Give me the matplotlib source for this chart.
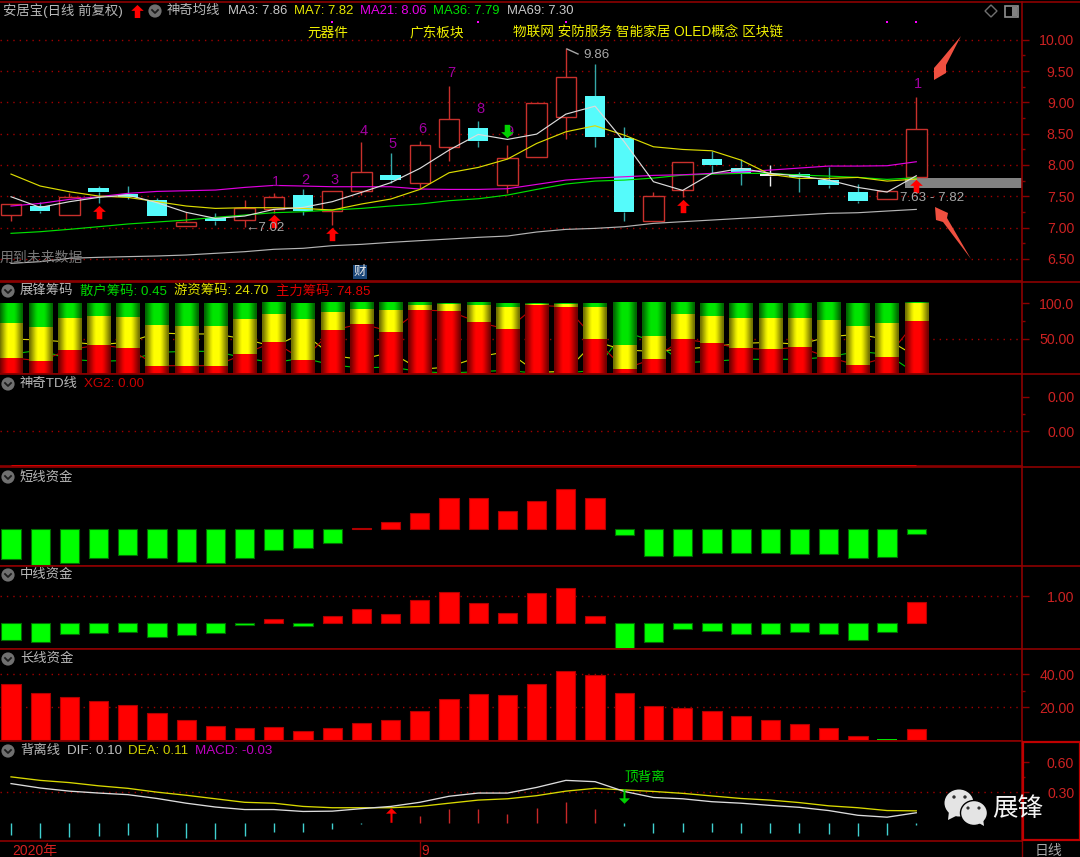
import numpy as np
import matplotlib
matplotlib.use('Agg')
import matplotlib.pyplot as plt
from matplotlib.path import Path
from matplotlib.patches import Circle, Ellipse, Polygon, Rectangle

plt.rcParams['font.family'] = ['Liberation Sans', 'Noto Sans CJK SC', 'DejaVu Sans']

# candles
opens = [7.196, 7.345, 7.196, 7.637, 7.536, 7.44, 7.031, 7.148, 7.121, 7.302, 7.525, 7.27, 7.578, 7.834, 7.717, 8.28,
         8.594, 7.68, 8.131, 8.769, 9.099, 8.429, 7.1, 7.594, 8.089, 7.945, 7.85, 7.855, 7.759, 7.563, 7.461, 7.812]
closes = [7.376, 7.26, 7.483, 7.568, 7.493, 7.185, 7.089, 7.1, 7.307, 7.483, 7.27, 7.578, 7.881, 7.765, 8.323, 8.737,
          8.387, 8.105, 8.987, 9.402, 8.44, 7.244, 7.504, 8.052, 7.993, 7.876, 7.823, 7.812, 7.679, 7.424, 7.578, 8.573]
highs = [7.376, 7.408, 7.557, 7.664, 7.664, 7.472, 7.249, 7.228, 7.44, 7.546, 7.621, 7.578, 8.36, 8.185, 8.381, 9.269,
         8.705, 8.323, 8.987, 9.86, 9.609, 8.599, 7.568, 8.052, 8.227, 8.089, 7.998, 7.887, 7.972, 7.695, 7.578, 9.083]
lows = [7.105, 7.238, 7.196, 7.387, 7.461, 7.185, 7.031, 7.047, 7.015, 7.228, 7.206, 7.036, 7.525, 7.706, 7.626, 8.057,
        8.291, 7.546, 8.131, 8.408, 8.291, 7.1, 7.1, 7.483, 7.866, 7.68, 7.664, 7.573, 7.626, 7.387, 7.461, 7.812]

ma3 = [7.493, 7.323, 7.414, 7.483, 7.52, 7.398, 7.244, 7.148, 7.185, 7.291, 7.323, 7.414, 7.563, 7.717, 7.945, 8.238,
       8.488, 8.408, 8.493, 8.812, 8.939, 8.371, 7.733, 7.594, 7.866, 7.945, 7.866, 7.823, 7.759, 7.642, 7.568, 7.828]
ma7 = [7.855, 7.664, 7.573, 7.504, 7.483, 7.414, 7.345, 7.307, 7.318, 7.318, 7.307, 7.281, 7.377, 7.456, 7.61, 7.876,
       7.961, 8.094, 8.344, 8.53, 8.626, 8.477, 8.291, 8.248, 8.227, 8.078, 7.85, 7.786, 7.786, 7.802, 7.743, 7.775]
ma21 = [7.345, 7.387, 7.451, 7.493, 7.547, 7.578, 7.589, 7.6, 7.642, 7.674, 7.664, 7.653, 7.653, 7.653, 7.616, 7.61,
        7.61, 7.621, 7.69, 7.759, 7.791, 7.812, 7.834, 7.844, 7.866, 7.887, 7.919, 7.951, 7.983, 7.983, 7.988, 8.052]
ma36 = [6.909, 6.935, 6.973, 7.015, 7.058, 7.09, 7.121, 7.164, 7.201, 7.238, 7.254, 7.281, 7.307, 7.345, 7.377, 7.43,
        7.461, 7.52, 7.61, 7.696, 7.743, 7.759, 7.791, 7.839, 7.855, 7.866, 7.866, 7.839, 7.823, 7.802, 7.77, 7.797]
ma69 = [6.43, 6.457, 6.51, 6.526, 6.537, 6.547, 6.563, 6.59, 6.616, 6.654, 6.67, 6.712, 6.733, 6.765, 6.792, 6.818,
        6.845, 6.866, 6.93, 6.972, 6.988, 7.015, 7.068, 7.095, 7.121, 7.148, 7.174, 7.201, 7.228, 7.238, 7.265, 7.291]

count_idx = [9, 10, 11, 12, 13, 14, 15, 16, 17, 31]
count_val = [7.73, 7.76, 7.76, 8.55, 8.34, 8.58, 9.47, 8.89, 8.53, 9.29]
count_txt = ['1', '2', '3', '4', '5', '6', '7', '8', '9', '1']
up_idx = [3, 9, 11, 23, 31]
up_val = [7.25, 7.10, 6.90, 7.34, 7.67]
down_idx = [17]
down_val = [8.54]
dot_idx = [11, 16, 19, 30, 31]
dot_val = [10.28, 10.28, 10.28, 10.28, 10.28]
band_low, band_high = 7.63, 7.80

# chips
chip_main = [23.0, 18.3, 34.3, 40.8, 36.2, 11.7, 11.7, 11.7, 28.2, 45.5, 19.7, 61.5, 70.9, 59.6, 90.1, 88.7,
             72.8, 63.0, 96.7, 94.8, 49.0, 7.0, 21.6, 49.0, 43.7, 36.2, 34.7, 37.6, 23.5, 12.2, 23.5, 74.85]
chip_hot = [49.3, 47.9, 45.0, 41.4, 44.6, 57.8, 56.4, 56.4, 49.3, 38.6, 57.8, 25.8, 20.6, 30.5, 6.6, 9.9,
            23.9, 31.8, 2.4, 3.8, 45.8, 33.8, 31.9, 35.0, 38.5, 43.1, 44.6, 41.7, 52.5, 55.9, 48.8, 24.7]
chip_retail = [27.7, 33.8, 20.7, 17.8, 19.2, 30.5, 31.9, 31.9, 22.5, 15.9, 22.5, 12.7, 8.5, 9.9, 3.3, 1.4,
               3.3, 5.2, 0.9, 1.4, 5.2, 59.2, 46.5, 16.0, 17.8, 20.7, 20.7, 20.7, 24.0, 31.9, 27.7, 0.45]

xg2 = [-0.0035] * 32

# funds
short_fund = [-0.90, -1.08, -1.00, -0.87, -0.77, -0.87, -0.97, -1.00, -0.87, -0.63, -0.55, -0.40, 0.05, 0.22, 0.49, 0.93,
              0.93, 0.56, 0.84, 1.20, 0.94, -0.16, -0.80, -0.80, -0.70, -0.70, -0.70, -0.73, -0.73, -0.87, -0.83, -0.13]
mid_fund = [-0.62, -0.69, -0.41, -0.36, -0.32, -0.49, -0.44, -0.36, -0.07, 0.15, -0.11, 0.27, 0.52, 0.35, 0.86, 1.15,
            0.74, 0.40, 1.11, 1.31, 0.27, -0.96, -0.69, -0.21, -0.28, -0.41, -0.41, -0.32, -0.41, -0.62, -0.32, 0.78]
long_fund = [34.1, 28.5, 25.9, 23.8, 21.6, 16.8, 12.1, 8.7, 7.3, 7.9, 5.9, 7.3, 10.7, 12.1, 17.6, 25.0,
             27.9, 27.3, 34.1, 41.6, 39.6, 28.5, 21.0, 19.6, 17.6, 14.7, 12.1, 9.9, 7.3, 2.4, 0.9, 6.7]
long_green = [30]

# macd
dif = [0.388, 0.344, 0.313, 0.294, 0.278, 0.24, 0.193, 0.155, 0.13, 0.13, 0.111, 0.114, 0.139, 0.161, 0.202, 0.262,
       0.294, 0.294, 0.35, 0.42, 0.407, 0.31, 0.25, 0.237, 0.208, 0.193, 0.171, 0.152, 0.12, 0.073, 0.054, 0.098]
dea = [0.455, 0.42, 0.398, 0.366, 0.341, 0.303, 0.272, 0.237, 0.202, 0.193, 0.161, 0.148, 0.148, 0.148, 0.161, 0.193,
       0.224, 0.237, 0.268, 0.313, 0.341, 0.325, 0.31, 0.291, 0.265, 0.24, 0.224, 0.199, 0.167, 0.148, 0.12, 0.117]
macd = [-0.126, -0.155, -0.145, -0.136, -0.126, -0.145, -0.155, -0.164, -0.136, -0.095, -0.095, -0.06, -0.01, 0.0, 0.066, 0.136,
        0.136, 0.088, 0.145, 0.208, 0.136, -0.03, -0.107, -0.098, -0.095, -0.107, -0.107, -0.107, -0.117, -0.136, -0.123, -0.02]

x = np.arange(32)
GRID = '#a00000'
FRAME = '#8c0000'
TICK = '#cc2222'
CYAN = '#55fbfb'
CANDLE_RED = '#c8302c'
WHITE_LINE = '#dcdcdc'
YELLOW_LINE = '#dcdc00'
MAGENTA_LINE = '#e000e0'
GREEN_LINE = '#00e000'
GREY_LINE = '#b4b4b4'

W, H = 1080, 857
fig = plt.figure(figsize=(W / 100, H / 100), dpi=100, facecolor='black')

up_arrow = Path([(0, 1), (0.95, 0.1), (0.42, 0.1), (0.42, -1), (-0.42, -1), (-0.42, 0.1), (-0.95, 0.1), (0, 1)])
down_arrow = Path([(0, -1), (0.95, -0.1), (0.42, -0.1), (0.42, 1), (-0.42, 1), (-0.42, -0.1), (-0.95, -0.1), (0, -1)])
thin_up = Path([(0, 1), (0.75, 0.25), (0.14, 0.25), (0.14, -1), (-0.14, -1), (-0.14, 0.25), (-0.75, 0.25), (0, 1)])
thin_down = Path([(0, -1), (0.75, -0.25), (0.14, -0.25), (0.14, 1), (-0.14, 1), (-0.14, -0.25), (-0.75, -0.25), (0, -1)])


def panel(top, bottom, ylim, ticks, labels, minor=None, dotted=None):
    ax = fig.add_axes([0, 1 - bottom / H, 1022 / W, (bottom - top) / H], facecolor='black')
    ax.set_xlim(-0.377, 34.62)
    ax.set_ylim(*ylim)
    ax.set_xticks([])
    ax.yaxis.tick_right()
    ax.set_yticks(ticks)
    ax.set_yticklabels(labels, ha='right', fontsize=10.2, color=TICK)
    if minor:
        ax.set_yticks(minor, minor=True)
    ax.tick_params(axis='y', which='major', length=5, width=1, color=FRAME, pad=32.6)
    ax.tick_params(axis='y', which='minor', length=2.5, width=1, color=FRAME)
    ax.spines['left'].set_visible(False)
    for s in ['top', 'bottom', 'right']:
        ax.spines[s].set_color(FRAME)
        ax.spines[s].set_linewidth(1.2)
    for d in (dotted if dotted is not None else ticks):
        ax.axhline(d, color=GRID, lw=1, ls=(0, (1, 3.6)), zorder=0.5)
    return ax


# main panel
ax = panel(1.5, 281.5, (6.14, 10.61), [6.5, 7, 7.5, 8, 8.5, 9, 9.5, 10],
           ['6.50', '7.00', '7.50', '8.00', '8.50', '9.00', '9.50', '10.00'],
           minor=[6.75, 7.25, 7.75, 8.25, 8.75, 9.25, 9.75])
ax.barh((band_low + band_high) / 2, 34.62 - 30.6, height=band_high - band_low, left=30.6, color='#828282', zorder=1)
for i in x:
    up = closes[i] >= opens[i]
    col = CANDLE_RED if up else '#35a8a8'
    if i == 26:
        col = '#f0f0f0'
    body_top = max(opens[i], closes[i])
    body_bot = min(opens[i], closes[i])
    ax.vlines(i, body_top, highs[i], color=col, lw=1, zorder=2)
    ax.vlines(i, lows[i], body_bot, color=col, lw=1, zorder=2)
    if up:
        ax.bar(i, body_top - body_bot, bottom=body_bot, width=0.7, facecolor='black', edgecolor=CANDLE_RED, lw=1, zorder=2)
    else:
        ax.bar(i, body_top - body_bot, bottom=body_bot, width=0.7, color=CYAN if i != 26 else '#f0f0f0', zorder=2)
ax.plot(x, ma69, color=GREY_LINE, lw=0.85, zorder=3)
ax.plot(x, ma36, color=GREEN_LINE, lw=0.85, zorder=3)
ax.plot(x, ma21, color=MAGENTA_LINE, lw=0.85, zorder=3)
ax.plot(x, ma7, color=YELLOW_LINE, lw=0.85, zorder=3)
ax.plot(x, ma3, color=WHITE_LINE, lw=0.85, zorder=3)
ax.plot(up_idx, up_val, ls='none', marker=up_arrow, ms=9.6, color='#ff0000', mew=0, zorder=4)
ax.plot(down_idx, down_val, ls='none', marker=down_arrow, ms=9.6, color='#00d000', mew=0, zorder=4)
ax.plot(dot_idx, dot_val, ls='none', marker='s', ms=1.6, color='#ff00ff', mew=0, zorder=4)
for i, v, t in zip(count_idx, count_val, count_txt):
    ax.text(i + 0.07, v, t, color='#a000a0', fontsize=10.5, ha='center', va='center', zorder=3.5)

# chips panel
ax = panel(281.5, 374, (0, 130.3), [50, 100], ['50.00', '100.0'], minor=[75], dotted=[50])
ax.plot(x, chip_retail, color='#00c000', lw=0.8, zorder=1)
ax.plot(x, chip_hot, color='#d8d800', lw=0.8, zorder=1)
ax.plot(x, chip_main, color='#c00000', lw=0.8, zorder=1)
shade = np.array([0.45, 0.6, 0.75, 0.9, 1, 1, 1, 1, 0.9, 0.75, 0.6, 0.45]).reshape(1, -1, 1)
for i in x:
    bot = 0
    for v, c in ((chip_main[i], (1, 0, 0)), (chip_hot[i], (1, 1, 0)), (chip_retail[i], (0, 0.9, 0))):
        img = shade * np.array(c).reshape(1, 1, 3)
        ax.imshow(img, extent=(i - 0.4, i + 0.4, bot, bot + v), aspect='auto', interpolation='bilinear', zorder=2)
        bot += v
ax.set_xlim(-0.377, 34.62)
ax.set_ylim(0, 130.3)

# td panel
ax = panel(374, 466.5, (-0.00353, 0.00567), [0, 0.0034], ['0.00', '0.00'], minor=[0.0017], dotted=[0])
ax.plot(x, xg2, color='#e00000', lw=2, solid_capstyle='butt', zorder=3)


def fund_bars(ax, vals, width=0.66):
    for i, v in enumerate(vals):
        if v >= 0:
            ax.bar(i, v, width=width, facecolor='#ff0000', edgecolor='#b00000', lw=0.8, zorder=2)
        else:
            ax.bar(i, v, width=width, facecolor='#00ff00', edgecolor='#007000', lw=0.8, zorder=2)


ax = panel(466.5, 565.5, (-1.087, 1.888), [], [])
fund_bars(ax, short_fund)
ax = panel(565.5, 649.3, (-0.96, 2.141), [1], ['1.00'])
fund_bars(ax, mid_fund)
ax = panel(649.3, 741, (-0.42, 55.0), [20, 40], ['20.00', '40.00'], minor=[30])
fund_bars(ax, [0 if i in long_green else v for i, v in enumerate(long_fund)])
for i in long_green:
    ax.bar(i, long_fund[i], width=0.66, color='#00e000', zorder=3)

# macd panel
ax = panel(741, 841, (-0.1828, 0.8116), [0.3, 0.6], ['0.30', '0.60'], minor=[0.45], dotted=[0.3])
for i, v in enumerate(macd):
    ax.vlines(i, 0, v, color='#c82828' if v > 0 else '#40d0d0', lw=1, zorder=2)
ax.plot(x, dea, color='#d8d800', lw=0.95, zorder=3)
ax.plot(x, dif, color=WHITE_LINE, lw=0.95, zorder=3)
ax.plot([13], [0.073], ls='none', marker=thin_up, ms=10.5, color='#ff0000', mew=0, zorder=4)
ax.plot([21], [0.262], ls='none', marker=thin_down, ms=10.5, color='#00d000', mew=0, zorder=4)

# overlay in pixels for headers and annotations
ov = fig.add_axes([0, 0, 1, 1], facecolor='none', zorder=10)
ov.set_xlim(0, W)
ov.set_ylim(H, 0)
ov.axis('off')

# separators run on to the right edge
ov.hlines([1.5, 281.5, 374, 466.5, 565.5, 649.3], 1022, W, color=FRAME, lw=1.2)


def txt(px, py, s, color, size=9.4, **kw):
    ov.text(px, py, s, color=color, fontsize=size, va='center', ha=kw.pop('ha', 'left'), **kw)


def icon(px, py):
    ov.add_patch(Circle((px, py), 6.6, facecolor='#707070', edgecolor='none'))
    ov.plot([px - 3, px, px + 3], [py - 1, py + 2, py - 1], color='#1c1c1c', lw=1.3)


GREY_TXT = '#b8b8b8'
txt(3, 11, '安居宝(日线 前复权)', GREY_TXT, 9.6)
ov.plot([137], [11], ls='none', marker=up_arrow, ms=9.4, color='#ff0000', mew=0)
icon(155, 11)
txt(167, 11, '神奇均线', GREY_TXT, 9.6)
txt(228, 11, 'MA3: 7.86', '#c8c8c8', 9.4)
txt(294, 11, 'MA7: 7.82', '#e8e800', 9.4)
txt(360, 11, 'MA21: 8.06', '#e800e8', 9.4)
txt(433, 11, 'MA36: 7.79', '#00e000', 9.4)
txt(507, 11, 'MA69: 7.30', '#c8c8c8', 9.4)
txt(307, 33, '元器件', '#f0f000', 9.8)
txt(409, 33, '广东板块', '#f0f000', 9.8)
txt(513, 33, '物联网 安防服务 智能家居 OLED概念 区块链', '#f0f000', 9.8)
ov.add_patch(Polygon([(991, 5), (997, 11), (991, 17), (985, 11)], facecolor='none', edgecolor='#707070', lw=1))
ov.add_patch(Rectangle((1005, 6), 13, 11, facecolor='none', edgecolor='#909090', lw=1.2))
ov.add_patch(Rectangle((1012, 7), 5, 9, facecolor='#808080', edgecolor='none'))

txt(245, 228, '←7.02', '#a8a8a8', 9.6)
ov.plot([567, 578], [49, 54], color='#a8a8a8', lw=1)
txt(583, 55, '9.86', '#a8a8a8', 9.6)
txt(900, 198, '7.63 - 7.82', '#a8a8a8', 9.6)
txt(0, 258, '用到未来数据', '#787878', 10)
ov.add_patch(Rectangle((353, 265), 14, 14, facecolor='#1a4678', edgecolor='none'))
txt(360, 272, '财', '#e8e8e8', 9, ha='center')

# hand drawn arrows
ov.add_patch(Polygon([(961, 36), (946, 65), (946, 73), (934, 80), (934, 68), (941, 60)], facecolor='#f05040', edgecolor='none'))
ov.add_patch(Polygon([(971, 259), (943, 222), (936, 220), (935, 207), (948, 213), (947, 218)], facecolor='#f05040', edgecolor='none'))

icon(8, 291)
txt(20, 291, '展锋筹码', GREY_TXT, 9.6)
txt(80, 291, '散户筹码: 0.45', '#00d800', 9.6)
txt(174, 291, '游资筹码: 24.70', '#e0e000', 9.6)
txt(276, 291, '主力筹码: 74.85', '#e00000', 9.6)
icon(8, 384)
txt(20, 384, '神奇TD线', GREY_TXT, 9.6)
txt(84, 384, 'XG2: 0.00', '#c80000', 9.6)
icon(8, 477)
txt(20, 477, '短线资金', GREY_TXT, 9.6)
icon(8, 575)
txt(20, 575, '中线资金', GREY_TXT, 9.6)
icon(8, 659)
txt(20, 659, '长线资金', GREY_TXT, 9.6)
icon(8, 751)
txt(20, 751, '背离线', GREY_TXT, 9.6)
txt(67, 751, 'DIF: 0.10', '#c0c0c0', 9.6)
txt(128, 751, 'DEA: 0.11', '#d0d000', 9.6)
txt(195, 751, 'MACD: -0.03', '#c000c0', 9.6)
txt(624, 776, '顶背离', '#00d800', 9.8)

# active panel frame on the right
ov.add_patch(Rectangle((1023, 742), 57, 98, facecolor='none', edgecolor='#c00000', lw=1.6))

# wechat mark
ov.add_patch(Ellipse((959, 803), 29, 27, facecolor='#e4e4e4', edgecolor='none'))
ov.add_patch(Polygon([(949, 811), (948, 820), (958, 815)], facecolor='#e4e4e4', edgecolor='none'))
ov.add_patch(Ellipse((974, 813), 27, 25, facecolor='#e4e4e4', edgecolor='black', lw=1))
ov.add_patch(Polygon([(977, 822), (984, 826), (983, 818)], facecolor='#e4e4e4', edgecolor='none'))
for ex, ey, r in [(954, 797, 1.7), (965, 797, 1.7), (968, 808, 1.6), (979, 808, 1.6)]:
    ov.add_patch(Circle((ex, ey), r, facecolor='#303030', edgecolor='none'))
txt(992, 809, '展锋', '#f4f4f4', 18.4)

# date strip
txt(12, 851, '2020年', '#d42020', 10)
ov.plot([419.5, 419.5], [842, 857], color=FRAME, lw=1)
txt(421, 851, '9', '#d42020', 10)
ov.plot([1022, 1022], [841, 857], color=FRAME, lw=1)
txt(1035, 851, '日线', '#a8a8a8', 10)

fig.savefig('out.png', dpi=100, facecolor='black')
